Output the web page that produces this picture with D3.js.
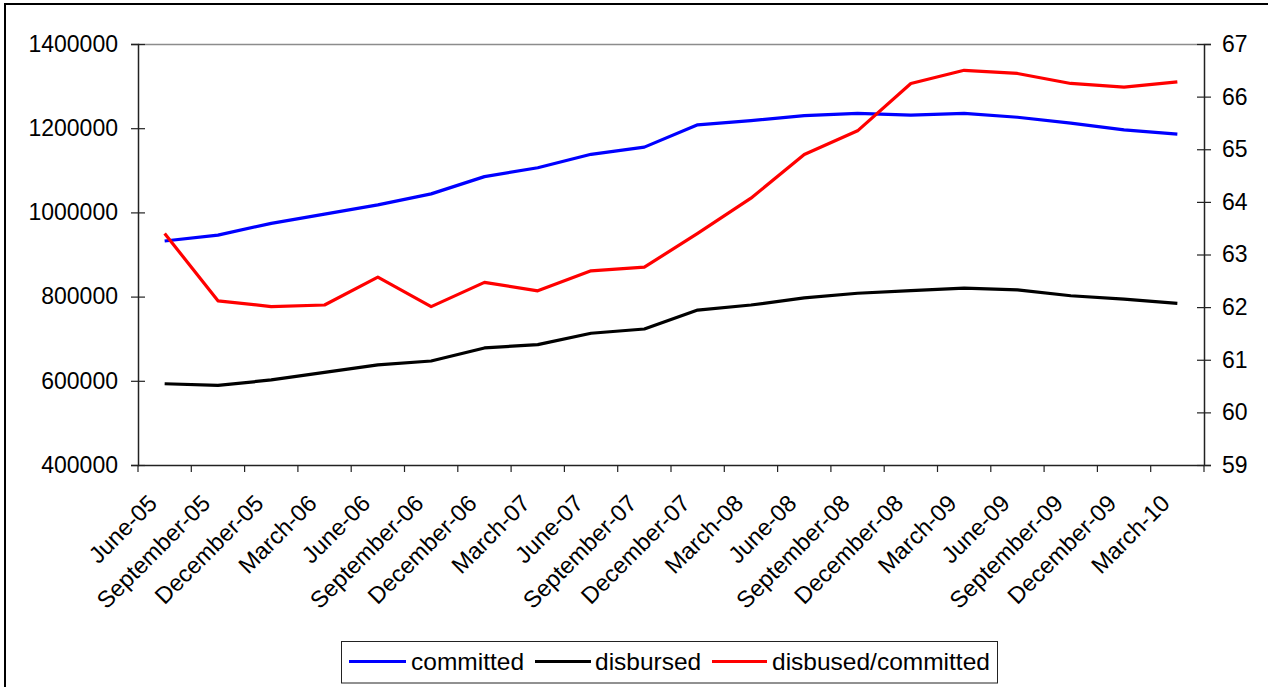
<!DOCTYPE html>
<html>
<head>
<meta charset="utf-8">
<script src="https://cdn.jsdelivr.net/npm/d3@7"></script>
<style>
  html, body { margin: 0; padding: 0; background: #fff; }
  svg { display: block; font-family: "Liberation Sans", Arial, sans-serif; }
</style>
</head>
<body>
<svg id="chart" width="1268" height="687"></svg>
<script>
// Quarter labels
const quarters = [
  "June-05", "September-05", "December-05", "March-06", "June-06",
  "September-06", "December-06", "March-07", "June-07", "September-07",
  "December-07", "March-08", "June-08", "September-08", "December-08",
  "March-09", "June-09", "September-09", "December-09", "March-10"
];

// Amounts committed (left axis)
const committed = [
  932000, 946000, 974000, 996000, 1018000, 1044000, 1085000, 1106000, 1138000, 1155000,
  1208000, 1218000, 1230000, 1235000, 1231000, 1235000, 1226000, 1212000, 1196000, 1186000
];

// Amounts disbursed (left axis)
const disbursed = [
  593000, 589000, 602000, 620000, 638000, 647000, 678000, 686000, 713000, 723000,
  768000, 780000, 797000, 808000, 814000, 820000, 816000, 802000, 794000, 784000
];

// Disbursed as a share of committed, % (right axis)
const ratio = [
  63.40, 62.12, 62.01, 62.04, 62.57, 62.01, 62.47, 62.31, 62.69, 62.76,
  63.40, 64.07, 64.90, 65.35, 66.25, 66.50, 66.44, 66.25, 66.18, 66.28
];

const leftTicks = [400000, 600000, 800000, 1000000, 1200000, 1400000];
const rightTicks = [59, 60, 61, 62, 63, 64, 65, 66, 67];

const seriesDefs = [
  { name: "committed", values: committed, axis: "left", color: "#0000ff" },
  { name: "disbursed", values: disbursed, axis: "left", color: "#000000" },
  { name: "disbused/committed", values: ratio, axis: "right", color: "#ff0000" }
];

const svg = d3.select("#chart");
const plot = { left: 138, right: 1204, top: 44, bottom: 465 };

// outer frame
svg.append("rect")
  .attr("x", 5).attr("y", 4)
  .attr("width", 1300).attr("height", 720)
  .attr("fill", "none").attr("stroke", "#000").attr("stroke-width", 2);

const x = d3.scaleBand().domain(quarters).range([plot.left, plot.right]).padding(0);
const yL = d3.scaleLinear().domain([400000, 1400000]).range([plot.bottom, plot.top]);
const yR = d3.scaleLinear().domain([59, 67]).range([plot.bottom, plot.top]);

// plot-area top edge
svg.append("line")
  .attr("x1", plot.left).attr("x2", plot.right)
  .attr("y1", plot.top + 0.5).attr("y2", plot.top + 0.5)
  .attr("stroke", "#8c8c8c").attr("stroke-width", 1.5);

const tickFont = "23px";

// left axis
const leftAxis = svg.append("g").attr("transform", `translate(${plot.left},0)`)
  .call(d3.axisLeft(yL).tickValues(leftTicks).tickSize(7).tickPadding(13).tickFormat(d3.format("d")));
leftAxis.selectAll(".tick line").attr("x2", 7).attr("x1", -7);

// right axis
const rightAxis = svg.append("g").attr("transform", `translate(${plot.right},0)`)
  .call(d3.axisRight(yR).tickValues(rightTicks).tickSize(7).tickPadding(11).tickFormat(d3.format("d")));
rightAxis.selectAll(".tick line").attr("x1", -7).attr("x2", 7);

// category axis with ticks on category boundaries
const bottomAxis = svg.append("g").attr("transform", `translate(0,${plot.bottom})`)
  .call(d3.axisBottom(x).tickSize(0).tickFormat(""));
bottomAxis.selectAll(".tick").remove();
bottomAxis.select(".domain").attr("d", `M${plot.left},0.5H${plot.right}`);
const bounds = d3.range(quarters.length + 1).map(i => plot.left + i * x.bandwidth());
bottomAxis.selectAll("line.cat").data(bounds).join("line")
  .attr("class", "cat")
  .attr("x1", d => d).attr("x2", d => d)
  .attr("y1", 0).attr("y2", 7)
  .attr("stroke", "#222").attr("stroke-width", 1.2);

[leftAxis, rightAxis, bottomAxis].forEach(g => {
  g.select(".domain").attr("stroke", "#222").attr("stroke-width", 1.5);
  g.selectAll(".tick line").attr("stroke", "#222").attr("stroke-width", 1.2);
  g.selectAll("text").attr("font-size", tickFont).attr("fill", "#000")
    .attr("font-family", "'Liberation Sans', Arial, sans-serif");
});

// rotated category labels
svg.append("g").selectAll("text").data(quarters).join("text")
  .attr("transform", d => `translate(${x(d) + x.bandwidth() / 2 - 18},${plot.bottom + 28}) rotate(-45)`)
  .attr("text-anchor", "end")
  .attr("dy", "0.71em")
  .attr("font-size", "23.5px")
  .attr("fill", "#000")
  .text(d => d);

// series lines
const cx = d => x(d) + x.bandwidth() / 2;
seriesDefs.forEach(s => {
  const yS = s.axis === "left" ? yL : yR;
  const line = d3.line().x((d, i) => cx(quarters[i])).y(d => yS(d));
  svg.append("path")
    .datum(s.values)
    .attr("d", line)
    .attr("fill", "none")
    .attr("stroke", s.color)
    .attr("stroke-width", 3.2)
    .attr("stroke-linejoin", "round");
});

// legend
const legend = svg.append("g");
legend.append("rect")
  .attr("x", 341.5).attr("y", 641.5)
  .attr("width", 656).attr("height", 41.5)
  .attr("fill", "#fff").attr("stroke", "#222").attr("stroke-width", 1);
const legendItems = [
  { s: seriesDefs[0], x0: 349, x1: 406, tx: 411 },
  { s: seriesDefs[1], x0: 535, x1: 591, tx: 595 },
  { s: seriesDefs[2], x0: 712, x1: 767, tx: 772 }
];
legendItems.forEach(it => {
  legend.append("line")
    .attr("x1", it.x0).attr("x2", it.x1)
    .attr("y1", 661.5).attr("y2", 661.5)
    .attr("stroke", it.s.color).attr("stroke-width", 3.2);
  legend.append("text")
    .attr("x", it.tx).attr("y", 661.5)
    .attr("dy", "0.35em")
    .attr("font-size", "24.5px")
    .attr("fill", "#000")
    .text(it.s.name);
});
</script>
</body>
</html>
